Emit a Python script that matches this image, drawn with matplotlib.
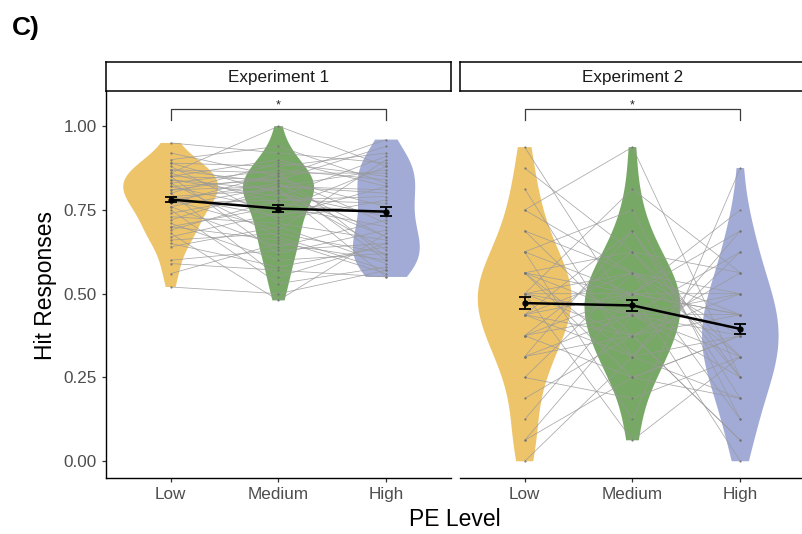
import numpy as np
import matplotlib.pyplot as plt

plt.rcParams["font.family"] = ["Liberation Sans", "DejaVu Sans"]

levels = ["Low", "Medium", "High"]
experiments = ["Experiment 1", "Experiment 2"]

# Experiment 1: per-subject hit rates (one entry per participant, same order in each list)
exp1_low = [0.95, 0.92, 0.90, 0.89, 0.89, 0.88, 0.87, 0.87, 0.86, 0.86, 0.85, 0.85,
            0.85, 0.84, 0.84, 0.83, 0.83, 0.82, 0.82, 0.81, 0.81, 0.80, 0.80, 0.79,
            0.79, 0.78, 0.78, 0.77, 0.77, 0.76, 0.76, 0.75, 0.74, 0.73, 0.72, 0.71,
            0.70, 0.70, 0.69, 0.68, 0.67, 0.66, 0.65, 0.64, 0.60, 0.59, 0.56, 0.52]
exp1_medium = [0.92, 0.85, 0.94, 0.80, 0.88, 0.72, 0.86, 0.83, 1.00, 0.77, 0.84, 0.62,
               0.90, 0.81, 0.79, 0.87, 0.67, 0.84, 0.75, 0.85, 0.82, 0.55, 0.89, 0.81,
               0.73, 0.83, 0.69, 0.86, 0.78, 0.64, 0.82, 0.53, 0.80, 0.71, 0.82, 0.60,
               0.76, 0.66, 0.78, 0.48, 0.74, 0.68, 0.58, 0.70, 0.63, 0.57, 0.65, 0.50]
exp1_high = [0.89, 0.96, 0.83, 0.67, 0.92, 0.78, 0.86, 0.60, 0.88, 0.74, 0.94, 0.69,
             0.82, 0.63, 0.91, 0.84, 0.57, 0.76, 0.88, 0.71, 0.80, 0.65, 0.85, 0.55,
             0.82, 0.67, 0.90, 0.61, 0.77, 0.72, 0.87, 0.58, 0.73, 0.66, 0.81, 0.62,
             0.70, 0.56, 0.79, 0.68, 0.75, 0.62, 0.64, 0.59, 0.65, 0.55, 0.60, 0.57]

# Experiment 2: hits out of 16 targets per participant
exp2_trials = 16
exp2_low_hits = [15, 14, 13, 12, 12, 11, 11, 10, 10, 10, 9, 9, 9, 9, 9, 8, 8, 8, 8, 8,
                 8, 7, 7, 7, 7, 7, 6, 6, 6, 6, 5, 5, 5, 4, 4, 3, 2, 1, 1, 0]
exp2_medium_hits = [7, 10, 5, 9, 15, 6, 9, 2, 8, 12, 7, 5, 10, 8, 4, 9, 13, 6, 7, 8,
                    1, 11, 6, 8, 9, 5, 7, 10, 4, 8, 6, 11, 7, 3, 9, 6, 8, 4, 7, 5]
exp2_high_hits = [8, 4, 11, 7, 4, 9, 5, 14, 7, 2, 6, 10, 5, 8, 3, 6, 9, 1, 7, 11,
                  5, 4, 8, 12, 2, 6, 5, 9, 6, 0, 7, 3, 10, 5, 8, 1, 7, 6, 4, 3]

# group means and standard errors
exp1_mean = [0.781, 0.754, 0.745]
exp1_se = [0.007, 0.010, 0.013]
exp2_mean = [0.472, 0.465, 0.395]
exp2_se = [0.018, 0.017, 0.016]

sig_label = "*"

colors = ["#EEC46A", "#78A866", "#A1ABD6"]
violin_widths = [[0.88, 0.66, 0.62], [0.87, 0.89, 0.71]]

exp1 = [np.array(exp1_low), np.array(exp1_medium), np.array(exp1_high)]
exp2 = [np.array(h) / exp2_trials for h in (exp2_low_hits, exp2_medium_hits, exp2_high_hits)]
panels = [(exp1, exp1_mean, exp1_se), (exp2, exp2_mean, exp2_se)]

W, H = 803, 534
fig = plt.figure(figsize=(W / 100, H / 100), dpi=100)

ax_w = 345 / W
ax_b = (H - 478) / H
ax_h = (478 - 91) / H
strip_h = 29 / H
lefts = [106 / W, 460 / W]

x = np.arange(1, 4)
for k, (groups, means, ses) in enumerate(panels):
    ax = fig.add_axes([lefts[k], ax_b, ax_w, ax_h])
    parts = ax.violinplot(groups, positions=x, widths=violin_widths[k],
                          showextrema=False, bw_method=0.45, points=300)
    for body, c in zip(parts["bodies"], colors):
        body.set_facecolor(c)
        body.set_edgecolor("none")
        body.set_alpha(1)
        body.set_zorder(1)

    # one thin line per participant across the three levels
    subj = np.column_stack(groups)
    for row in subj:
        ax.plot(x, row, color="#999999", lw=0.55, alpha=0.85, zorder=2,
                marker="o", ms=1.6, mfc="#707070", mec="none")

    ax.errorbar(x, means, yerr=ses, color="black", lw=1.8, capsize=4.5,
                capthick=1.3, elinewidth=1.3, marker="o", ms=3.5, zorder=4)

    # significance bracket Low vs High
    ax.plot([1, 1, 3, 3], [1.018, 1.05, 1.05, 1.018], color="#3a3a3a", lw=0.9, zorder=3)
    ax.text(2, 1.053, sig_label, ha="center", va="baseline", fontsize=9, color="#222222")

    ax.set_xlim(0.4, 3.6)
    ax.set_ylim(-0.05, 1.105)
    ax.set_xticks(x)
    ax.set_xticklabels(levels)
    ax.spines["top"].set_visible(False)
    ax.spines["right"].set_visible(False)
    ax.spines["bottom"].set_linewidth(1.0)
    ax.spines["left"].set_linewidth(1.0)
    ax.tick_params(axis="both", length=3, width=0.9, color="#333333",
                   labelcolor="#4D4D4D", labelsize=12.3, pad=3.5)
    if k == 0:
        ax.set_yticks([0, 0.25, 0.5, 0.75, 1.0])
        ax.set_yticklabels(["0.00", "0.25", "0.50", "0.75", "1.00"])
    else:
        ax.spines["left"].set_visible(False)
        ax.tick_params(axis="y", left=False, labelleft=False)

    # facet strip
    sax = fig.add_axes([lefts[k], ax_b + ax_h, ax_w, strip_h])
    sax.set_xticks([])
    sax.set_yticks([])
    for sp in sax.spines.values():
        sp.set_linewidth(1.1)
        sp.set_color("black")
    sax.text(0.5, 0.48, experiments[k], ha="center", va="center",
             fontsize=12.3, color="#1A1A1A", transform=sax.transAxes)

fig.text(46 / W, 1 - 285 / H, "Hit Responses", rotation=90, ha="center", va="center",
         fontsize=16.5, color="black")
fig.text(455 / W, 15 / H, "PE Level", ha="center", va="center", fontsize=16.5, color="black")
fig.text(12 / W, 1 - 28 / H, "C)", ha="left", va="center", fontsize=19,
         fontweight="bold", color="black")

fig.savefig("out.png", dpi=100)
